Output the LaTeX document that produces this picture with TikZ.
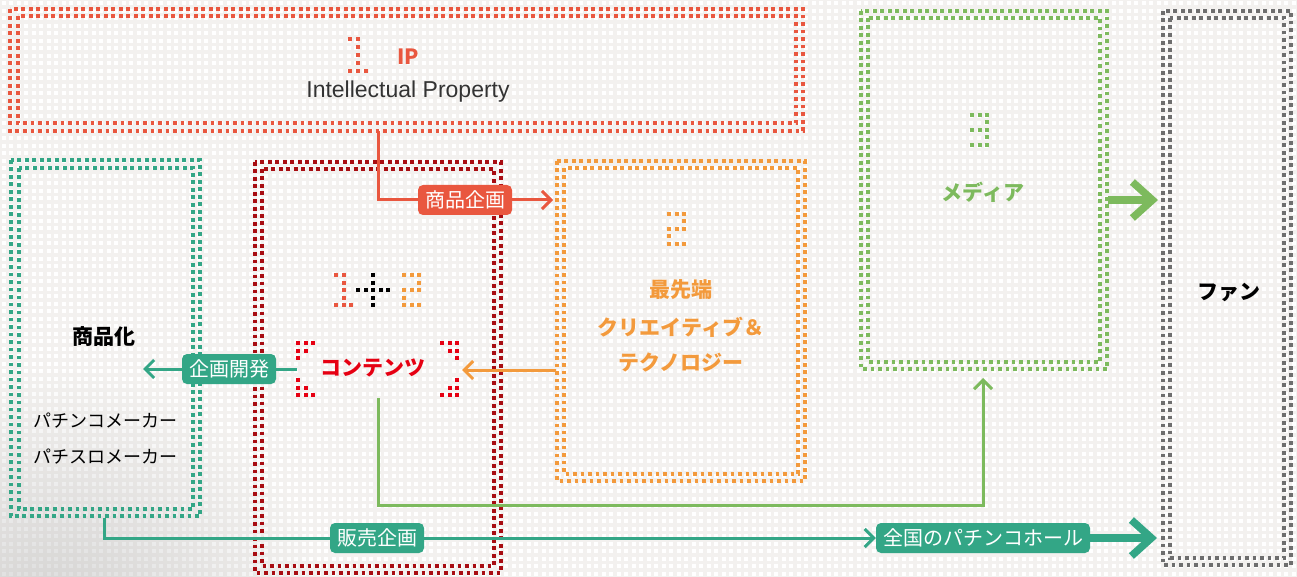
\documentclass[tikz,border=0pt]{standalone}
\usepackage{fontspec}
\setmainfont{Noto Sans CJK JP}
\newfontfamily\latinfont{Liberation Sans}
\usetikzlibrary{arrows.meta,fadings}
\definecolor{bgc}{HTML}{F3F1EF}
\definecolor{ipred}{HTML}{E9573F}
\definecolor{cred}{HTML}{E60012}
\definecolor{dred}{HTML}{A80D12}
\definecolor{orng}{HTML}{F39A3C}
\definecolor{grn}{HTML}{7DBA5D}
\definecolor{tealc}{HTML}{33A686}
\definecolor{fangray}{HTML}{6E6E6E}
\tikzfading[name=cornerfade, inner color=transparent!45, outer color=transparent!100]
\pgfdeclarelayer{back}
\pgfdeclarelayer{lines}
\pgfsetlayers{back,lines,main}
\tikzset{
  dots/.style={line width=4pt, dash pattern=on 3.8pt off 3.7pt},
  conn/.style={line width=3pt},
  tiparrow/.style={-{Straight Barb[length=9pt,width=18pt]}},
  bigarrow/.style={line width=7.5pt, -{Straight Barb[length=20pt,width=36pt]}},
  tag/.style={rounded corners=5pt, text=white, font=\fontsize{20}{21}\selectfont, inner xsep=7pt, inner ysep=0pt, minimum height=30pt},
  btxt/.style={font=\bfseries\fontsize{21}{24}\selectfont},
  mtxt/.style={font=\fontsize{18}{20}\selectfont},
}
\newcommand\pixg[5]{\foreach \i/\j in {#5}{\fill[#1] ({#2+\i*#4-2},{#3+\j*#4-2}) rectangle ++(4,4);}}
\begin{document}
\begin{tikzpicture}[x=1pt,y=-1pt]
\useasboundingbox (0,0) rectangle (1297,577);
\clip (0,0) rectangle (1297,577);
\begin{pgfonlayer}{back}
\fill[bgc] (0,0) rectangle (1297,577);
\foreach \r in {0,...,77} \draw[white, line width=4pt, dash pattern=on 4pt off 3.5pt, dash phase=-1.5pt] (0,{3.5+\r*7.5}) -- (1297,{3.5+\r*7.5});
\fill[black!30, path fading=cornerfade] (-230,370) rectangle (330,930);
% boxes
\draw[dots, ipred] (10,9) rectangle (803,131);
\draw[dots, ipred] (17.5,16.5) rectangle (795.5,123.5);
\draw[dots, grn] (861,11) rectangle (1107,369);
\draw[dots, grn] (868,18) rectangle (1100,362);
\draw[dots, fangray] (1163,11) rectangle (1291,565);
\draw[dots, fangray] (1170,18) rectangle (1284,558);
\draw[dots, orng] (557,161) rectangle (805,481);
\draw[dots, orng] (564,168) rectangle (798,474);
\draw[dots, dred] (255,162) rectangle (501,573);
\draw[dots, dred] (262,169) rectangle (494,566);
\draw[dots, tealc] (11,160) rectangle (200,516);
\draw[dots, tealc] (19,168) rectangle (193,509);
% pixel numerals
\pixg{ipred}{350}{39}{8}{0/0,1/0,1/1,1/2,1/3,0/4,1/4,2/4}
\pixg{ipred}{336}{275}{7.5}{0/0,1/0,1/1,1/2,1/3,0/4,1/4,2/4}
\pixg{black}{373}{275}{7.5}{0/0,0/1,-2/2,-1/2,0/2,1/2,2/2,0/3,0/4}
\pixg{orng}{404}{275}{7.5}{0/0,1/0,2/0,2/1,0/2,1/2,2/2,0/3,0/4,1/4,2/4}
\pixg{orng}{669}{214}{7.5}{0/0,1/0,2/0,2/1,0/2,1/2,2/2,0/3,0/4,1/4,2/4}
\pixg{grn}{972}{115}{7.5}{0/0,1/0,2/0,2/1,0/2,1/2,2/2,2/3,0/4,1/4,2/4}
% brackets round contents
\pixg{cred}{298}{343}{7.5}{0/0,1/0,2/0,0/1,1/1,0/2}
\pixg{cred}{298}{395}{7.5}{0/0,1/0,2/0,0/-1,1/-1,0/-2}
\pixg{cred}{457}{343}{7.5}{0/0,-1/0,-2/0,0/1,-1/1,0/2}
\pixg{cred}{457}{395}{7.5}{0/0,-1/0,-2/0,0/-1,-1/-1,0/-2}
\end{pgfonlayer}

% texts
\node[btxt, ipred] (iplbl) at (408,57) {IP};
\node[font=\latinfont\fontsize{23}{26}\selectfont, black!80] (iptxt) at (408,92) {Intellectual Property};
\node[btxt] (shohinka) at (104,337) {商品化};
\node[mtxt] (maker1) at (105,421) {パチンコメーカー};
\node[mtxt] (maker2) at (105,457) {パチスロメーカー};
\node[btxt, cred] (contents) at (373,368) {コンテンツ};
\node[btxt, orng] (tech1) at (681,290) {最先端};
\node[btxt, orng] (tech2) at (681,327) {クリエイティブ＆};
\node[btxt, orng] (tech3) at (681,362) {テクノロジー};
\node[btxt, grn] (media) at (983,192) {メディア};
\node[btxt] (fan) at (1229,292) {ファン};

% tags
\node[tag, fill=ipred] (tShohin) at (465,200) {商品企画};
\node[tag, fill=tealc] (tKikaku) at (229,369) {企画開発};
\node[tag, fill=tealc] (tHanbai) at (377,538) {販売企画};
\node[tag, fill=tealc] (tZenkoku) at (983,538) {全国のパチンコホール};

% connector end points
\coordinate (ipA) at (378,131);
\coordinate (ipB) at (553,200);
\coordinate (orA) at (556,370);
\coordinate (orB) at (462,370);
\coordinate (kA) at (297,369);
\coordinate (kB) at (143,369);
\coordinate (gA) at (378,398);
\coordinate (gC) at (378,505);
\coordinate (gB) at (983,378);
\coordinate (hA) at (104,518);
\coordinate (hC) at (104,538);
\coordinate (mA) at (1108,200);
\coordinate (mB) at (1158,200);
\coordinate (fB) at (1157,538);

\begin{pgfonlayer}{lines}
\draw[conn, ipred, tiparrow] (ipA) |- (ipB);
\draw[conn, orng, tiparrow] (orA) -- (orB);
\draw[conn, tealc, tiparrow] (kA) -- (kB);
\draw[conn, grn, tiparrow] (gA) -- (gC) -| (gB);
\draw[conn, tealc, tiparrow] (hA) -- (hC) -- (tZenkoku.west);
\draw[bigarrow, grn] (mA) -- (mB);
\draw[bigarrow, tealc] (tZenkoku.east) -- (fB);
\end{pgfonlayer}
\end{tikzpicture}
\end{document}
